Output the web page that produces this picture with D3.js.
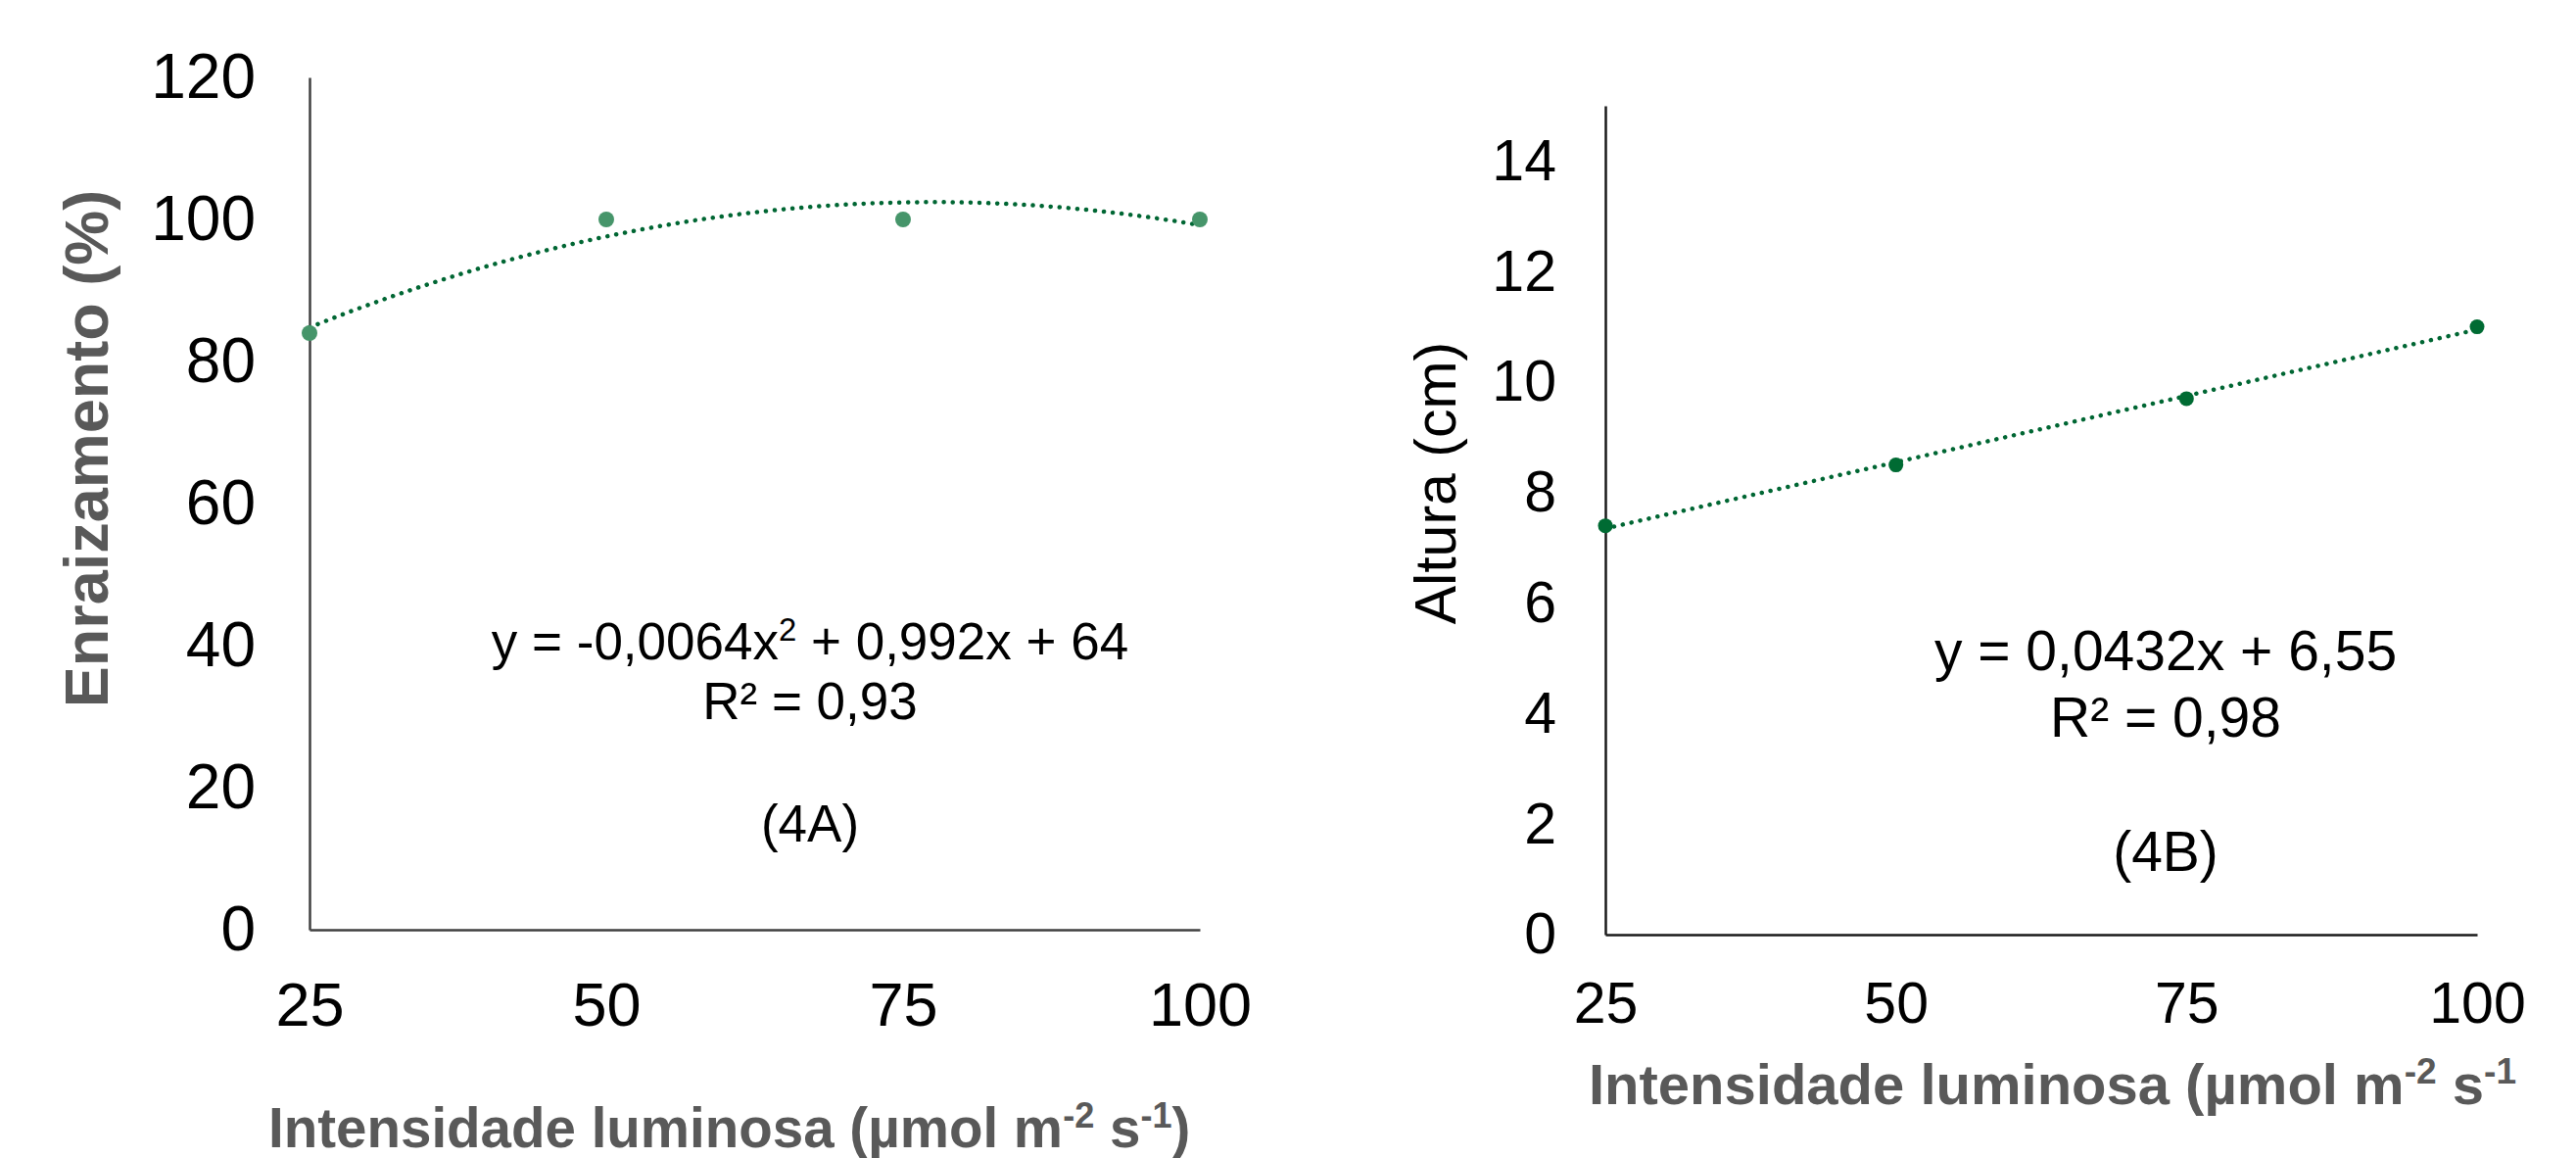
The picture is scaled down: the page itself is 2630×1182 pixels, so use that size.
<!DOCTYPE html>
<html>
<head>
<meta charset="utf-8">
<script src="https://cdn.jsdelivr.net/npm/d3@7/dist/d3.min.js"></script>
<style>
  html, body { margin: 0; padding: 0; background: #ffffff; }
  svg { display: block; }
  text { font-family: "Liberation Sans", Arial, sans-serif; }
</style>
</head>
<body>
<svg id="chart" width="2630" height="1182"></svg>
<script>
// ---------------- data ----------------
const intensidade = [25, 50, 75, 100];
const enraizamento = [84, 100, 100, 100];
const altura = [7.4, 8.5, 9.7, 11.0];
const xTickValues = [25, 50, 75, 100];
const yTicksA = [0, 20, 40, 60, 80, 100, 120];
const yTicksB = [0, 2, 4, 6, 8, 10, 12, 14];
const eqA = ["y = -0,0064x", "2", " + 0,992x + 64"];
const r2A = "R² = 0,93";
const eqB = "y = 0,0432x + 6,55";
const r2B = "R² = 0,98";
const panelA = "(4A)";
const panelB = "(4B)";
const yTitleA = "Enraizamento (%)";
const yTitleB = "Altura (cm)";

// ---------------- helpers ----------------
function polyFit(xs, ys, degree) {
  const n = degree + 1;
  const A = Array.from({length: n}, () => new Array(n + 1).fill(0));
  for (let r = 0; r < n; r++) {
    for (let c = 0; c < n; c++) A[r][c] = d3.sum(xs, x => Math.pow(x, r + c));
    A[r][n] = d3.sum(xs, (x, i) => ys[i] * Math.pow(x, r));
  }
  for (let i = 0; i < n; i++) {
    let p = i;
    for (let k = i + 1; k < n; k++) if (Math.abs(A[k][i]) > Math.abs(A[p][i])) p = k;
    [A[i], A[p]] = [A[p], A[i]];
    for (let k = i + 1; k < n; k++) {
      const f = A[k][i] / A[i][i];
      for (let j = i; j <= n; j++) A[k][j] -= f * A[i][j];
    }
  }
  const coef = new Array(n).fill(0);
  for (let i = n - 1; i >= 0; i--) {
    let s = A[i][n];
    for (let j = i + 1; j < n; j++) s -= A[i][j] * coef[j];
    coef[i] = s / A[i][i];
  }
  return x => coef.reduce((acc, c, i) => acc + c * Math.pow(x, i), 0);
}

const svg = d3.select("#chart");
svg.append("rect").attr("width", 2630).attr("height", 1182).attr("fill", "#ffffff");

function supTitle(g, x, y, size, withClose) {
  const t = g.append("text")
    .attr("x", x).attr("y", y)
    .attr("font-size", size).attr("font-weight", "bold")
    .attr("fill", "#595959");
  const supSize = size * 0.64;
  const shift = size * 0.36;
  t.append("tspan").text("Intensidade luminosa (\u00b5mol m");
  t.append("tspan").attr("font-size", supSize).attr("dy", -shift).text("-2");
  t.append("tspan").attr("dy", shift).text(" s");
  t.append("tspan").attr("font-size", supSize).attr("dy", -shift).text("-1");
  if (withClose) t.append("tspan").attr("dy", shift).text(")");
}

function drawPanel(cfg) {
  const g = svg.append("g");
  const x = d3.scaleLinear().domain([25, 100]).range(cfg.xRange);
  const y = d3.scaleLinear().domain(cfg.yDomain).range(cfg.yRange);

  // axes
  const ax = g.append("g").attr("transform", `translate(0,${cfg.yRange[0]})`)
    .call(d3.axisBottom(x).tickValues(xTickValues).tickFormat(d3.format("d"))
      .tickSize(0).tickSizeOuter(0).tickPadding(cfg.xPad));
  const ay = g.append("g").attr("transform", `translate(${cfg.xRange[0]},0)`)
    .call(d3.axisLeft(y).tickValues(cfg.yTicks).tickFormat(d3.format("d"))
      .tickSize(0).tickSizeOuter(0).tickPadding(cfg.yPad));
  [ax, ay].forEach(a => {
    a.select(".domain").attr("stroke", cfg.axisColor).attr("stroke-width", 2.5);
    a.selectAll("text").attr("fill", "#000").attr("font-family", "Liberation Sans, Arial, sans-serif");
  });
  ax.selectAll("text").attr("font-size", cfg.xFont);
  ay.selectAll("text").attr("font-size", cfg.yFont);

  // trend line (least squares fit of the data)
  const fit = polyFit(intensidade, cfg.values, cfg.degree);
  const xs = d3.range(25, 100.001, 0.5);
  g.append("path")
    .datum(xs)
    .attr("fill", "none")
    .attr("stroke", "#006633")
    .attr("stroke-width", 4.5)
    .attr("stroke-linecap", "round")
    .attr("stroke-dasharray", "0.1 9")
    .attr("d", d3.line().x(d => x(d)).y(d => y(fit(d))));

  // points
  g.selectAll("circle.pt").data(cfg.values).join("circle")
    .attr("class", "pt")
    .attr("cx", (d, i) => x(intensidade[i]))
    .attr("cy", d => y(d))
    .attr("r", cfg.r)
    .attr("fill", cfg.pointColor);

  // equation texts
  const eq1 = g.append("text").attr("x", cfg.eqX).attr("y", cfg.eqY1)
    .attr("text-anchor", "middle").attr("font-size", cfg.eqFont).attr("fill", "#000");
  if (Array.isArray(cfg.eq)) {
    eq1.append("tspan").text(cfg.eq[0]);
    eq1.append("tspan").attr("font-size", cfg.eqFont * 0.62).attr("dy", -cfg.eqFont * 0.36).text(cfg.eq[1]);
    eq1.append("tspan").attr("dy", cfg.eqFont * 0.36).text(cfg.eq[2]);
  } else {
    eq1.text(cfg.eq);
  }
  g.append("text").attr("x", cfg.eqX).attr("y", cfg.eqY2)
    .attr("text-anchor", "middle").attr("font-size", cfg.eqFont).attr("fill", "#000")
    .text(cfg.r2);
  g.append("text").attr("x", cfg.eqX).attr("y", cfg.panelY)
    .attr("text-anchor", "middle").attr("font-size", cfg.eqFont).attr("fill", "#000")
    .text(cfg.panel);

  // y title
  g.append("text")
    .attr("transform", `translate(${cfg.yTitleX},${cfg.yTitleY}) rotate(-90)`)
    .attr("text-anchor", "middle")
    .attr("font-size", cfg.yTitleFont)
    .attr("font-weight", cfg.yTitleWeight)
    .attr("fill", cfg.yTitleColor)
    .text(cfg.yTitle);

  supTitle(g, cfg.xTitleX, cfg.xTitleY, cfg.xTitleFont, cfg.xTitleClose);
}

drawPanel({
  xRange: [316, 1225], yRange: [949, 79], yDomain: [0, 120], yTicks: yTicksA,
  values: enraizamento, degree: 2,
  xPad: 53, yPad: 55, xFont: 63, yFont: 64, axisColor: "#404040",
  r: 8, pointColor: "#46956a",
  eq: eqA, r2: r2A, panel: panelA, eqX: 827, eqY1: 673, eqY2: 734, panelY: 859, eqFont: 53,
  yTitle: yTitleA, yTitleX: 110, yTitleY: 458, yTitleFont: 63, yTitleWeight: "bold", yTitleColor: "#595959",
  xTitleX: 274, xTitleY: 1171, xTitleFont: 56.5, xTitleClose: true
});

drawPanel({
  xRange: [1639, 2529], yRange: [954, 108], yDomain: [0, 15], yTicks: yTicksB,
  values: altura, degree: 1,
  xPad: 48, yPad: 50, xFont: 59, yFont: 59, axisColor: "#1a1a1a",
  r: 7.5, pointColor: "#006b33",
  eq: eqB, r2: r2B, panel: panelB, eqX: 2211, eqY1: 684, eqY2: 752, panelY: 889, eqFont: 57,
  yTitle: yTitleB, yTitleX: 1486, yTitleY: 493, yTitleFont: 59, yTitleWeight: "normal", yTitleColor: "#000",
  xTitleX: 1622, xTitleY: 1127, xTitleFont: 58, xTitleClose: false
});
</script>
</body>
</html>
